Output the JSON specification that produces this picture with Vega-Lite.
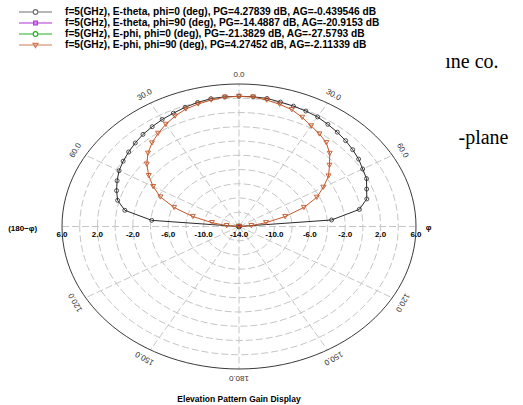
{
  "$schema": "https://vega.github.io/schema/vega-lite/v6.json",
  "width": 354,
  "height": 285,
  "autosize": {"type": "none"},
  "padding": {"left": 62, "top": 84, "right": 107, "bottom": 36},
  "background": "white",
  "config": {"view": {"stroke": null}, "font": "Liberation Sans"},
  "title": {
    "text": "Elevation Pattern Gain Display",
    "orient": "bottom",
    "anchor": "middle",
    "offset": 13,
    "fontSize": 8.5,
    "fontWeight": "bold",
    "color": "#000"
  },
  "datasets": {
    "rings": [
      {"level": -12}, {"level": -10}, {"level": -8}, {"level": -6}, {"level": -4},
      {"level": -2}, {"level": 0}, {"level": 2}, {"level": 4}
    ],
    "spokes": [
      {"theta": 0}, {"theta": 30}, {"theta": 60}, {"theta": 90}, {"theta": 120}, {"theta": 150},
      {"theta": 180}, {"theta": -30}, {"theta": -60}, {"theta": -90}, {"theta": -120}, {"theta": -150}
    ],
    "angleLabels": [
      {"label": "0.0", "theta": 0},
      {"label": "30.0", "theta": 30},
      {"label": "60.0", "theta": 60},
      {"label": "120.0", "theta": 120},
      {"label": "150.0", "theta": 150},
      {"label": "180.0", "theta": 180},
      {"label": "30.0", "theta": -30},
      {"label": "60.0", "theta": -60},
      {"label": "120.0", "theta": -120},
      {"label": "150.0", "theta": -150}
    ],
    "gainLabels": [
      {"label": "6.0", "level": 6, "side": -1},
      {"label": "2.0", "level": 2, "side": -1},
      {"label": "-2.0", "level": -2, "side": -1},
      {"label": "-6.0", "level": -6, "side": -1},
      {"label": "-10.0", "level": -10, "side": -1},
      {"label": "-14.0", "level": -14, "side": 0},
      {"label": "-10.0", "level": -10, "side": 1},
      {"label": "-6.0", "level": -6, "side": 1},
      {"label": "-2.0", "level": -2, "side": 1},
      {"label": "2.0", "level": 2, "side": 1},
      {"label": "6.0", "level": 6, "side": 1}
    ],
    "pattern": [
      {"trace": "Etheta_phi0", "theta": -90, "gain": -14},
      {"trace": "Etheta_phi0", "theta": -85, "gain": -4.1},
      {"trace": "Etheta_phi0", "theta": -80, "gain": -0.9},
      {"trace": "Etheta_phi0", "theta": -75, "gain": 0.2},
      {"trace": "Etheta_phi0", "theta": -70, "gain": 0.72},
      {"trace": "Etheta_phi0", "theta": -65, "gain": 1.2},
      {"trace": "Etheta_phi0", "theta": -60, "gain": 1.65},
      {"trace": "Etheta_phi0", "theta": -55, "gain": 1.98},
      {"trace": "Etheta_phi0", "theta": -50, "gain": 2.28},
      {"trace": "Etheta_phi0", "theta": -45, "gain": 2.58},
      {"trace": "Etheta_phi0", "theta": -40, "gain": 2.88},
      {"trace": "Etheta_phi0", "theta": -35, "gain": 3.1},
      {"trace": "Etheta_phi0", "theta": -30, "gain": 3.35},
      {"trace": "Etheta_phi0", "theta": -25, "gain": 3.55},
      {"trace": "Etheta_phi0", "theta": -20, "gain": 3.81},
      {"trace": "Etheta_phi0", "theta": -15, "gain": 4.03},
      {"trace": "Etheta_phi0", "theta": -10, "gain": 4.22},
      {"trace": "Etheta_phi0", "theta": -5, "gain": 4.27},
      {"trace": "Etheta_phi0", "theta": 0, "gain": 4.28},
      {"trace": "Etheta_phi0", "theta": 5, "gain": 4.28},
      {"trace": "Etheta_phi0", "theta": 10, "gain": 4.25},
      {"trace": "Etheta_phi0", "theta": 15, "gain": 4.08},
      {"trace": "Etheta_phi0", "theta": 20, "gain": 3.98},
      {"trace": "Etheta_phi0", "theta": 25, "gain": 3.88},
      {"trace": "Etheta_phi0", "theta": 30, "gain": 3.76},
      {"trace": "Etheta_phi0", "theta": 35, "gain": 3.5},
      {"trace": "Etheta_phi0", "theta": 40, "gain": 3.28},
      {"trace": "Etheta_phi0", "theta": 45, "gain": 3.04},
      {"trace": "Etheta_phi0", "theta": 50, "gain": 2.77},
      {"trace": "Etheta_phi0", "theta": 55, "gain": 2.5},
      {"trace": "Etheta_phi0", "theta": 60, "gain": 2.14},
      {"trace": "Etheta_phi0", "theta": 65, "gain": 1.9},
      {"trace": "Etheta_phi0", "theta": 70, "gain": 1.35},
      {"trace": "Etheta_phi0", "theta": 75, "gain": 0.95},
      {"trace": "Etheta_phi0", "theta": 80, "gain": -0.2},
      {"trace": "Etheta_phi0", "theta": 85, "gain": -3.5},
      {"trace": "Etheta_phi0", "theta": 90, "gain": -14},

      {"trace": "Ephi_phi90", "theta": -90, "gain": -14},
      {"trace": "Ephi_phi90", "theta": -85, "gain": -12.6},
      {"trace": "Ephi_phi90", "theta": -80, "gain": -10.9},
      {"trace": "Ephi_phi90", "theta": -75, "gain": -8.6},
      {"trace": "Ephi_phi90", "theta": -70, "gain": -6.2},
      {"trace": "Ephi_phi90", "theta": -65, "gain": -4.2},
      {"trace": "Ephi_phi90", "theta": -60, "gain": -2.8},
      {"trace": "Ephi_phi90", "theta": -55, "gain": -1.55},
      {"trace": "Ephi_phi90", "theta": -50, "gain": -0.4},
      {"trace": "Ephi_phi90", "theta": -45, "gain": 0.55},
      {"trace": "Ephi_phi90", "theta": -40, "gain": 1.3},
      {"trace": "Ephi_phi90", "theta": -35, "gain": 1.95},
      {"trace": "Ephi_phi90", "theta": -30, "gain": 2.55},
      {"trace": "Ephi_phi90", "theta": -25, "gain": 3.1},
      {"trace": "Ephi_phi90", "theta": -20, "gain": 3.55},
      {"trace": "Ephi_phi90", "theta": -15, "gain": 3.8},
      {"trace": "Ephi_phi90", "theta": -10, "gain": 4.02},
      {"trace": "Ephi_phi90", "theta": -5, "gain": 4.22},
      {"trace": "Ephi_phi90", "theta": 0, "gain": 4.27},
      {"trace": "Ephi_phi90", "theta": 5, "gain": 4.24},
      {"trace": "Ephi_phi90", "theta": 10, "gain": 4.02},
      {"trace": "Ephi_phi90", "theta": 15, "gain": 3.75},
      {"trace": "Ephi_phi90", "theta": 20, "gain": 3.45},
      {"trace": "Ephi_phi90", "theta": 25, "gain": 2.9},
      {"trace": "Ephi_phi90", "theta": 30, "gain": 2.3},
      {"trace": "Ephi_phi90", "theta": 35, "gain": 1.85},
      {"trace": "Ephi_phi90", "theta": 40, "gain": 1.35},
      {"trace": "Ephi_phi90", "theta": 45, "gain": 0.5},
      {"trace": "Ephi_phi90", "theta": 50, "gain": -0.65},
      {"trace": "Ephi_phi90", "theta": 55, "gain": -1.65},
      {"trace": "Ephi_phi90", "theta": 60, "gain": -3.0},
      {"trace": "Ephi_phi90", "theta": 65, "gain": -4.3},
      {"trace": "Ephi_phi90", "theta": 70, "gain": -6.2},
      {"trace": "Ephi_phi90", "theta": 75, "gain": -8.6},
      {"trace": "Ephi_phi90", "theta": 80, "gain": -10.9},
      {"trace": "Ephi_phi90", "theta": 85, "gain": -12.6},
      {"trace": "Ephi_phi90", "theta": 90, "gain": -14},

      {"trace": "Etheta_phi90", "theta": -45, "gain": -17.5},
      {"trace": "Etheta_phi90", "theta": 0, "gain": -14.49},
      {"trace": "Etheta_phi90", "theta": 45, "gain": -17.5},
      {"trace": "Ephi_phi0", "theta": -45, "gain": -24.0},
      {"trace": "Ephi_phi0", "theta": 0, "gain": -21.38},
      {"trace": "Ephi_phi0", "theta": 45, "gain": -24.0}
    ]
  },
  "layer": [
    {
      "data": {"name": "spokes"},
      "transform": [
        {"calculate": "0", "as": "origin"},
        {"calculate": "20*sin(datum.theta*PI/180)", "as": "sx"},
        {"calculate": "20*cos(datum.theta*PI/180)", "as": "sy"}
      ],
      "mark": {"type": "rule", "color": "#c6c6c6", "strokeWidth": 1, "strokeDash": [7, 3]},
      "encoding": {
        "x": {"field": "origin", "type": "quantitative", "scale": {"domain": [-20, 20], "nice": false, "zero": false}, "axis": null},
        "y": {"field": "origin", "type": "quantitative", "scale": {"domain": [-20, 20], "nice": false, "zero": false}, "axis": null},
        "x2": {"field": "sx"},
        "y2": {"field": "sy"}
      }
    },
    {
      "data": {"name": "rings"},
      "transform": [
        {"calculate": "0", "as": "origin"},
        {"calculate": "datum.level + 14", "as": "radius"}
      ],
      "mark": {
        "type": "point",
        "shape": "M-1,0A1,0.805,0,1,1,1,0A1,0.805,0,1,1,-1,0Z",
        "filled": false,
        "stroke": "#c6c6c6",
        "strokeWidth": 1,
        "strokeDash": [7, 3],
        "opacity": 1
      },
      "encoding": {
        "x": {"field": "origin", "type": "quantitative"},
        "y": {"field": "origin", "type": "quantitative"},
        "size": {
          "field": "radius",
          "type": "quantitative",
          "scale": {"type": "pow", "exponent": 2, "domain": [0, 20], "range": [0, 125316]},
          "legend": null
        }
      }
    },
    {
      "data": {"values": [{"level": 6}]},
      "transform": [
        {"calculate": "0", "as": "origin"},
        {"calculate": "datum.level + 14", "as": "radius"}
      ],
      "mark": {
        "type": "point",
        "shape": "M-1,0A1,0.805,0,1,1,1,0A1,0.805,0,1,1,-1,0Z",
        "filled": false,
        "stroke": "#3a3a3a",
        "strokeWidth": 1,
        "opacity": 1
      },
      "encoding": {
        "x": {"field": "origin", "type": "quantitative"},
        "y": {"field": "origin", "type": "quantitative"},
        "size": {"field": "radius", "type": "quantitative", "legend": null}
      }
    },
    {
      "data": {"name": "pattern"},
      "transform": [
        {"filter": "datum.trace == 'Ephi_phi0'"},
        {"calculate": "max(datum.gain + 14, 0)", "as": "r"},
        {"calculate": "datum.r*sin(datum.theta*PI/180)", "as": "px"},
        {"calculate": "datum.r*cos(datum.theta*PI/180)", "as": "py"}
      ],
      "mark": {"type": "point", "shape": "circle", "filled": false, "size": 12, "stroke": "#22b022", "opacity": 1},
      "encoding": {
        "x": {"field": "px", "type": "quantitative"},
        "y": {"field": "py", "type": "quantitative"}
      }
    },
    {
      "data": {"name": "pattern"},
      "transform": [
        {"filter": "datum.trace == 'Etheta_phi90'"},
        {"calculate": "max(datum.gain + 14, 0)", "as": "r"},
        {"calculate": "datum.r*sin(datum.theta*PI/180)", "as": "px"},
        {"calculate": "datum.r*cos(datum.theta*PI/180)", "as": "py"}
      ],
      "mark": {"type": "point", "shape": "square", "filled": true, "size": 14, "color": "#a020c8", "opacity": 1},
      "encoding": {
        "x": {"field": "px", "type": "quantitative"},
        "y": {"field": "py", "type": "quantitative"}
      }
    },
    {
      "data": {"name": "pattern"},
      "transform": [
        {"filter": "datum.trace == 'Etheta_phi0'"},
        {"calculate": "max(datum.gain + 14, 0)", "as": "r"},
        {"calculate": "datum.r*sin(datum.theta*PI/180)", "as": "px"},
        {"calculate": "datum.r*cos(datum.theta*PI/180)", "as": "py"}
      ],
      "layer": [
        {
          "mark": {"type": "line", "color": "#2a2a2a", "strokeWidth": 1},
          "encoding": {
            "x": {"field": "px", "type": "quantitative"},
            "y": {"field": "py", "type": "quantitative"},
            "order": {"field": "theta", "type": "quantitative"}
          }
        },
        {
          "mark": {"type": "point", "shape": "circle", "filled": false, "size": 16, "stroke": "#2a2a2a", "strokeWidth": 0.8, "opacity": 1},
          "encoding": {
            "x": {"field": "px", "type": "quantitative"},
            "y": {"field": "py", "type": "quantitative"}
          }
        }
      ]
    },
    {
      "data": {"name": "pattern"},
      "transform": [
        {"filter": "datum.trace == 'Ephi_phi90'"},
        {"calculate": "max(datum.gain + 14, 0)", "as": "r"},
        {"calculate": "datum.r*sin(datum.theta*PI/180)", "as": "px"},
        {"calculate": "datum.r*cos(datum.theta*PI/180)", "as": "py"}
      ],
      "layer": [
        {
          "mark": {"type": "line", "color": "#c4572a", "strokeWidth": 1},
          "encoding": {
            "x": {"field": "px", "type": "quantitative"},
            "y": {"field": "py", "type": "quantitative"},
            "order": {"field": "theta", "type": "quantitative"}
          }
        },
        {
          "mark": {"type": "point", "shape": "triangle-down", "filled": false, "size": 24, "stroke": "#c4572a", "strokeWidth": 0.9, "opacity": 1},
          "encoding": {
            "x": {"field": "px", "type": "quantitative"},
            "y": {"field": "py", "type": "quantitative"}
          }
        }
      ]
    },
    {
      "data": {"name": "angleLabels"},
      "transform": [
        {"calculate": "21.3*sin(datum.theta*PI/180)", "as": "lx"},
        {"calculate": "21.3*cos(datum.theta*PI/180)", "as": "ly"}
      ],
      "mark": {"type": "text", "fontSize": 8, "color": "#333", "align": "center", "baseline": "middle"},
      "encoding": {
        "x": {"field": "lx", "type": "quantitative"},
        "y": {"field": "ly", "type": "quantitative"},
        "angle": {"field": "theta", "type": "quantitative", "scale": null},
        "text": {"field": "label"}
      }
    },
    {
      "data": {"name": "gainLabels"},
      "transform": [
        {"calculate": "datum.side*(datum.level + 14)", "as": "gx"},
        {"calculate": "-1.2", "as": "gy"}
      ],
      "mark": {"type": "text", "fontSize": 8, "fontWeight": "bold", "color": "#000", "align": "center", "baseline": "middle"},
      "encoding": {
        "x": {"field": "gx", "type": "quantitative"},
        "y": {"field": "gy", "type": "quantitative"},
        "text": {"field": "label"}
      }
    },
    {
      "data": {"values": [{}]},
      "mark": {"type": "text", "text": "φ", "fontSize": 8, "fontWeight": "bold", "color": "#000", "align": "left", "baseline": "middle"},
      "encoding": {
        "x": {"datum": 21.1, "type": "quantitative"},
        "y": {"datum": -0.2, "type": "quantitative"}
      }
    },
    {
      "data": {"values": [{}]},
      "mark": {"type": "text", "text": "(180−φ)", "fontSize": 8, "fontWeight": "bold", "color": "#000", "align": "right", "baseline": "middle"},
      "encoding": {
        "x": {"datum": -22.8, "type": "quantitative"},
        "y": {"datum": -0.3, "type": "quantitative"}
      }
    },
    {
      "data": {"values": [{}]},
      "mark": {"type": "text", "text": "ıne co.", "font": "Liberation Serif", "fontSize": 20, "color": "#000", "align": "left", "baseline": "middle"},
      "encoding": {
        "x": {"datum": 23.3, "type": "quantitative"},
        "y": {"datum": 23.1, "type": "quantitative"}
      }
    },
    {
      "data": {"values": [{}]},
      "mark": {"type": "text", "text": "-plane", "font": "Liberation Serif", "fontSize": 20, "color": "#000", "align": "left", "baseline": "middle"},
      "encoding": {
        "x": {"datum": 24.8, "type": "quantitative"},
        "y": {"datum": 12.4, "type": "quantitative"}
      }
    },
    {
      "data": {"name": "pattern"},
      "transform": [{"filter": "false"}, {"calculate": "0", "as": "origin"}],
      "mark": {"type": "point", "filled": false, "opacity": 1, "strokeWidth": 1},
      "encoding": {
        "x": {"field": "origin", "type": "quantitative"},
        "y": {"field": "origin", "type": "quantitative"},
        "color": {
          "field": "trace",
          "type": "nominal",
          "scale": {
            "domain": ["Etheta_phi0", "Etheta_phi90", "Ephi_phi0", "Ephi_phi90"],
            "range": ["#6e6e6e", "#b030d8", "#22b022", "#d07a56"]
          },
          "legend": {
            "orient": "none",
            "legendX": -44,
            "legendY": -77,
            "title": null,
            "padding": 0,
            "symbolSize": 1089,
            "symbolStrokeWidth": 1.2,
            "clipHeight": 10,
            "rowPadding": 0,
            "labelOffset": 12,
            "labelFont": "Liberation Sans",
            "labelFontSize": 10.2,
            "labelFontWeight": "bold",
            "labelColor": "#000",
            "labelLimit": 0,
            "labelExpr": "{'Etheta_phi0': 'f=5(GHz), E-theta, phi=0 (deg), PG=4.27839 dB, AG=-0.439546 dB', 'Etheta_phi90': 'f=5(GHz), E-theta, phi=90 (deg), PG=-14.4887 dB, AG=-20.9153 dB', 'Ephi_phi0': 'f=5(GHz), E-phi, phi=0 (deg), PG=-21.3829 dB, AG=-27.5793 dB', 'Ephi_phi90': 'f=5(GHz), E-phi, phi=90 (deg), PG=4.27452 dB, AG=-2.11339 dB'}[datum.label]"
          }
        },
        "shape": {
          "field": "trace",
          "type": "nominal",
          "scale": {
            "domain": ["Etheta_phi0", "Etheta_phi90", "Ephi_phi0", "Ephi_phi90"],
            "range": [
              "M-1,0L-0.14,0M0.14,0L1,0M-0.14,0A0.14,0.14,0,1,1,0.14,0A0.14,0.14,0,1,1,-0.14,0Z",
              "M-1,0L1,0M-0.11,-0.11L0.11,-0.11L0.11,0.11L-0.11,0.11Z",
              "M-1,0L-0.14,0M0.14,0L1,0M-0.14,0A0.14,0.14,0,1,1,0.14,0A0.14,0.14,0,1,1,-0.14,0Z",
              "M-1,0L1,0M-0.15,-0.1L0.15,-0.1L0,0.15Z"
            ]
          },
          "legend": {
            "orient": "none",
            "legendX": -44,
            "legendY": -77,
            "title": null,
            "padding": 0,
            "symbolSize": 1089,
            "symbolStrokeWidth": 1.2,
            "clipHeight": 10,
            "rowPadding": 0,
            "labelOffset": 12,
            "labelFont": "Liberation Sans",
            "labelFontSize": 10.2,
            "labelFontWeight": "bold",
            "labelColor": "#000",
            "labelLimit": 0,
            "labelExpr": "{'Etheta_phi0': 'f=5(GHz), E-theta, phi=0 (deg), PG=4.27839 dB, AG=-0.439546 dB', 'Etheta_phi90': 'f=5(GHz), E-theta, phi=90 (deg), PG=-14.4887 dB, AG=-20.9153 dB', 'Ephi_phi0': 'f=5(GHz), E-phi, phi=0 (deg), PG=-21.3829 dB, AG=-27.5793 dB', 'Ephi_phi90': 'f=5(GHz), E-phi, phi=90 (deg), PG=4.27452 dB, AG=-2.11339 dB'}[datum.label]"
          }
        }
      }
    }
  ]
}
